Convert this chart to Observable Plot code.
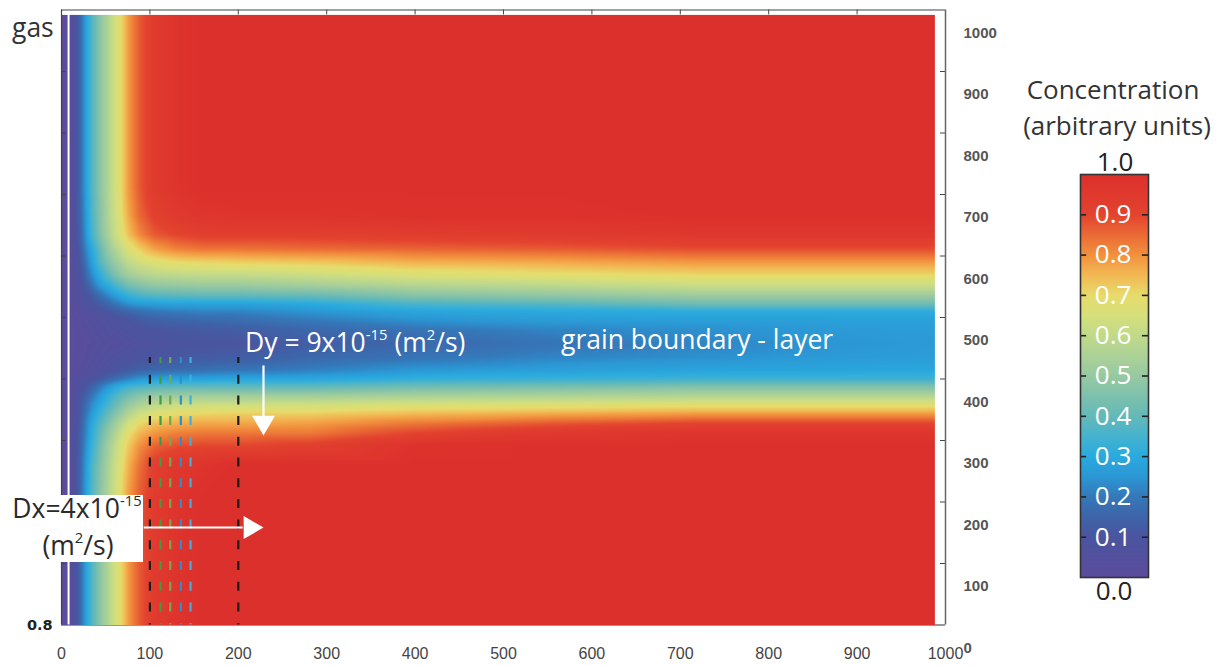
<!DOCTYPE html>
<html><head><meta charset="utf-8">
<script src="https://cdn.jsdelivr.net/npm/d3@7"></script>
<script src="https://cdn.jsdelivr.net/npm/@observablehq/plot@0.6"></script>
<style>
html,body{margin:0;padding:0;background:#fff;}
#wrap{position:relative;width:1222px;height:666px;overflow:hidden;font-family:"Open Sans",sans-serif;}
#wrap svg{position:absolute;left:0;top:0;}
.t{position:absolute;white-space:nowrap;font-size:26.5px;line-height:26.5px;}
.t sup{font-size:0.56em;line-height:0;position:relative;top:-0.15em;vertical-align:super;}
.c{text-align:center;}
</style></head>
<body><div id="wrap"></div>
<script>
// Sample positions (x along the sample, y across it) and concentration readings
const xs = [0, 8, 15, 22, 28, 35, 44, 55, 66, 76, 88, 105, 130, 160, 200, 280, 400, 550, 720, 880, 990];
const ys = [0, 200, 260, 290, 312, 328, 343, 358, 373, 388, 400, 415, 435, 457, 480, 498, 510, 522, 536, 552, 570, 590, 612, 635, 665, 710, 1000];
const conc = [
  [0,.01,.07,.18,.28,.38,.48,.59,.69,.79,.87,.94,.98,1,1,1,1,1,1,1,1],
  [0,.01,.07,.18,.28,.38,.48,.59,.69,.79,.87,.94,.98,1,1,1,1,1,1,1,1],
  [0,.01,.07,.17,.27,.37,.46,.57,.67,.76,.84,.92,.96,.98,1,1,1,1,1,1,1],
  [0,.01,.07,.16,.25,.34,.44,.55,.65,.73,.80,.86,.89,.90,.90,.92,.99,1,1,1,1],
  [0,.01,.07,.15,.23,.32,.41,.51,.61,.69,.75,.79,.82,.83,.83,.83,.90,.95,.97,.97,.97],
  [0,.01,.07,.14,.22,.30,.38,.47,.56,.64,.70,.74,.76,.77,.77,.78,.83,.87,.90,.90,.90],
  [0,.01,.06,.13,.20,.27,.34,.42,.50,.57,.63,.67,.70,.71,.72,.72,.75,.77,.79,.79,.79],
  [0,.01,.06,.12,.18,.24,.30,.37,.44,.50,.55,.59,.62,.63,.63,.64,.66,.67,.68,.68,.68],
  [0,.01,.05,.10,.15,.20,.26,.33,.39,.43,.47,.50,.51,.52,.52,.52,.54,.55,.56,.56,.56],
  [0,.01,.04,.08,.11,.15,.20,.26,.31,.34,.36,.38,.39,.39,.39,.39,.42,.43,.45,.45,.45],
  [0,.01,.03,.05,.07,.09,.12,.16,.19,.22,.25,.27,.28,.28,.29,.29,.32,.33,.34,.34,.34],
  [0,.01,.02,.03,.04,.05,.06,.08,.10,.12,.14,.16,.17,.18,.19,.21,.25,.27,.28,.285,.29],
  [0,.01,.02,.03,.03,.04,.05,.06,.07,.08,.09,.10,.11,.12,.13,.16,.19,.22,.24,.26,.265],
  [0,.01,.02,.02,.03,.03,.04,.05,.05,.06,.07,.08,.09,.095,.10,.13,.16,.19,.22,.25,.26],
  [0,.01,.02,.03,.03,.04,.05,.06,.07,.08,.09,.10,.11,.12,.13,.16,.19,.22,.24,.26,.265],
  [0,.01,.02,.03,.04,.05,.06,.07,.09,.11,.13,.15,.16,.17,.18,.21,.25,.27,.28,.28,.28],
  [0,.01,.03,.04,.05,.06,.08,.11,.14,.16,.18,.20,.21,.22,.22,.25,.29,.30,.31,.31,.31],
  [0,.01,.03,.05,.07,.10,.13,.17,.21,.24,.26,.27,.28,.28,.28,.30,.36,.38,.42,.42,.42],
  [0,.01,.04,.06,.09,.13,.18,.24,.29,.33,.36,.38,.39,.40,.40,.41,.47,.49,.52,.52,.52],
  [0,.01,.04,.08,.13,.19,.26,.32,.38,.43,.46,.49,.50,.51,.51,.53,.57,.59,.62,.62,.62],
  [0,.01,.05,.10,.17,.24,.32,.41,.48,.53,.56,.59,.60,.61,.61,.63,.67,.69,.71,.71,.71],
  [0,.01,.05,.12,.20,.28,.38,.47,.54,.60,.64,.67,.70,.71,.72,.73,.76,.77,.79,.79,.79],
  [0,.01,.06,.14,.23,.31,.41,.52,.60,.67,.72,.78,.82,.84,.84,.85,.86,.87,.89,.89,.89],
  [0,.01,.07,.16,.26,.36,.46,.57,.66,.74,.81,.87,.90,.92,.92,.92,.93,.94,.96,.96,.96],
  [0,.01,.07,.17,.27,.37,.47,.58,.68,.77,.85,.91,.95,.97,.98,.98,.99,.99,1,1,1],
  [0,.01,.07,.18,.28,.38,.48,.59,.69,.79,.87,.94,.98,1,1,1,1,1,1,1,1],
  [0,.01,.07,.18,.28,.38,.48,.59,.69,.79,.87,.94,.98,1,1,1,1,1,1,1,1]
];
const xTicks = [0, 100, 200, 300, 400, 500, 600, 700, 800, 900, 1000];
const yTicks = [0, 100, 200, 300, 400, 500, 600, 700, 800, 900, 1000];
const dashX = [100, 112, 123, 135, 146, 200];
const dashColors = ["#1c1c1c", "#3d9d45", "#74a852", "#2b8fcf", "#3cb0df", "#1c1c1c"];
const arrowLines = [{x1: 93, y1: 158.5, x2: 205, y2: 158.5}, {x1: 228.5, y1: 422, x2: 228.5, y2: 338}];
const arrowHeads = [{x: 213.6, y: 158.5}, {x: 228.5, y: 329.6}];
const cbTicks = [0.1, 0.2, 0.3, 0.4, 0.5, 0.6, 0.7, 0.8, 0.9];

const colorStops = [0, 0.1, 0.15, 0.2, 0.25, 0.3, 0.35, 0.4, 0.5, 0.6, 0.65, 0.7, 0.75, 0.8, 0.85, 0.9, 1.0];
const colorRamp = ["#5c4b9c", "#4a559f", "#3e64a9", "#3578b9", "#2b97d4", "#2aaadf", "#45b3cf", "#64b9b8", "#97c9a2", "#c1da8b", "#d6df7b", "#e7dc6b", "#f2b854", "#f2913e", "#ea6a35", "#e3432f", "#dc302c"];
const colorOpts = {type: "linear", domain: colorStops, range: colorRamp, interpolate: "rgb", clamp: true};

const grid = ys.flatMap((y, j) => xs.map((x, i) => ({x, y, c: conc[j][i]})));

const wrap = document.getElementById("wrap");
const ink = "#444";

const main = Plot.plot({
  width: 1222, height: 666,
  marginLeft: 61, marginRight: 277, marginTop: 9.5, marginBottom: 41.5,
  x: {domain: [0, 1000]},
  y: {domain: [0, 1000]},
  color: colorOpts,
  marks: [
    Plot.ruleY([0], {stroke: "#333", strokeWidth: 1.2}),
    Plot.raster(grid, {x: "x", y: "y", fill: "c", interpolate: "barycentric", x1: 0, x2: 988, y1: 0, y2: 992}),
    Plot.ruleX([8], {y1: 0, y2: 992, stroke: "white", strokeWidth: 2}),
    ...dashX.map((x, i) => Plot.ruleX([x], {y1: 435, y2: 0, stroke: dashColors[i], strokeWidth: 2.2, strokeDasharray: "9,11.7", strokeDashoffset: 3})),
    Plot.link(arrowLines, {x1: "x1", y1: "y1", x2: "x2", y2: "y2", stroke: "white", strokeWidth: 2.2}),
    Plot.dot(arrowHeads.slice(0, 1), {x: "x", y: "y", symbol: "triangle", r: 8.5, fill: "white", stroke: null, rotate: 90}),
    Plot.dot(arrowHeads.slice(1), {x: "x", y: "y", symbol: "triangle", r: 8.5, fill: "white", stroke: null, rotate: 180}),
    Plot.ruleX(xTicks.slice(1, -1), {y1: 992, y2: 1000, stroke: ink}),
    Plot.ruleY(yTicks.slice(1, -1), {x1: 0, x2: 5, stroke: ink}),
    Plot.ruleY(yTicks.slice(1, -1), {x1: 994.3, x2: 1000, stroke: ink}),
    Plot.ruleY([1000], {stroke: ink, strokeWidth: 1.2}),
    Plot.ruleX([0], {stroke: ink, strokeWidth: 1.2}),
    Plot.ruleX([1000], {stroke: "#666", strokeWidth: 1.5}),
    Plot.axisX({ticks: xTicks, anchor: "bottom", tickSize: 0, tickPadding: 23, tickFormat: (d) => String(d), label: null,
      fontSize: 16, fontFamily: "Liberation Sans", color: "#444"}),
    Plot.axisY({ticks: yTicks, anchor: "right", tickSize: 0, tickPadding: 18, dy: 23, tickFormat: (d) => String(d), label: null,
      fontSize: 15, fontWeight: "bold", fontFamily: "Liberation Sans", color: "#555"})
  ]
});
wrap.appendChild(main);

const bar = Plot.plot({
  width: 68, height: 403, margin: 0,
  x: {domain: [0, 1], axis: null},
  y: {domain: [0, 1], axis: null},
  color: colorOpts,
  marks: [
    Plot.raster({fill: (x, y) => y, x1: 0, x2: 1, y1: 0, y2: 1}),
    Plot.ruleY(cbTicks, {x1: 0, x2: 0.09, stroke: "#222", strokeWidth: 1.6}),
    Plot.ruleY(cbTicks, {x1: 0.91, x2: 1, stroke: "#222", strokeWidth: 1.6}),
    Plot.text(cbTicks, {x: 0.48, y: (d) => d, text: (d) => d.toFixed(1), fill: "white", fontSize: 26, fontFamily: "Open Sans"}),
    Plot.frame({stroke: "#333", strokeWidth: 1.6})
  ]
});
bar.style.left = "1080px";
bar.style.top = "174px";
bar.style.overflow = "visible";
wrap.appendChild(bar);

const box = document.createElement("div");
box.style.cssText = "position:absolute;left:0;top:495px;width:143px;height:67px;background:#fff;";
wrap.appendChild(box);

// labels: baseline positions in page pixels; top = baseline - 0.888 * fontSize (Open Sans, line-height = font-size)
const labels = [
  {html: "gas", left: 12, base: 38, color: "#333"},
  {html: "Dy = 9x10<sup>-15</sup> (m<sup>2</sup>/s)", left: 245, base: 353, color: "#fff"},
  {html: "grain boundary - layer", left: 561, base: 350, color: "#fff"},
  {html: "Dx=4x10<sup>-15</sup>", cx: 77, base: 518.5, color: "#2a2a2a"},
  {html: "(m<sup>2</sup>/s)", cx: 78, base: 555.5, color: "#2a2a2a"},
  {html: "Concentration", cx: 1113, base: 99, fs: 26, color: "#333"},
  {html: "(arbitrary units)", cx: 1117, base: 135.2, fs: 26, color: "#333"},
  {html: "1.0", cx: 1115, base: 170.6, fs: 26, color: "#222"},
  {html: "0.0", cx: 1114, base: 600, fs: 26, color: "#222"}
];
for (const l of labels) {
  const fs = l.fs || 26.5;
  const d = document.createElement("div");
  d.className = "t" + (l.cx != null ? " c" : "");
  d.style.fontSize = fs + "px";
  d.style.lineHeight = fs + "px";
  d.style.top = (l.base - 0.888 * fs) + "px";
  if (l.cx != null) { d.style.left = (l.cx - 120) + "px"; d.style.width = "240px"; }
  else d.style.left = l.left + "px";
  d.style.color = l.color;
  d.innerHTML = l.html;
  wrap.appendChild(d);
}
const z = document.createElement("div");
z.style.cssText = "position:absolute;left:27px;top:617px;font:bold 14.5px/16px 'DejaVu Sans';color:#222;";
z.textContent = "0.8";
wrap.appendChild(z);
</script>
</body></html>
